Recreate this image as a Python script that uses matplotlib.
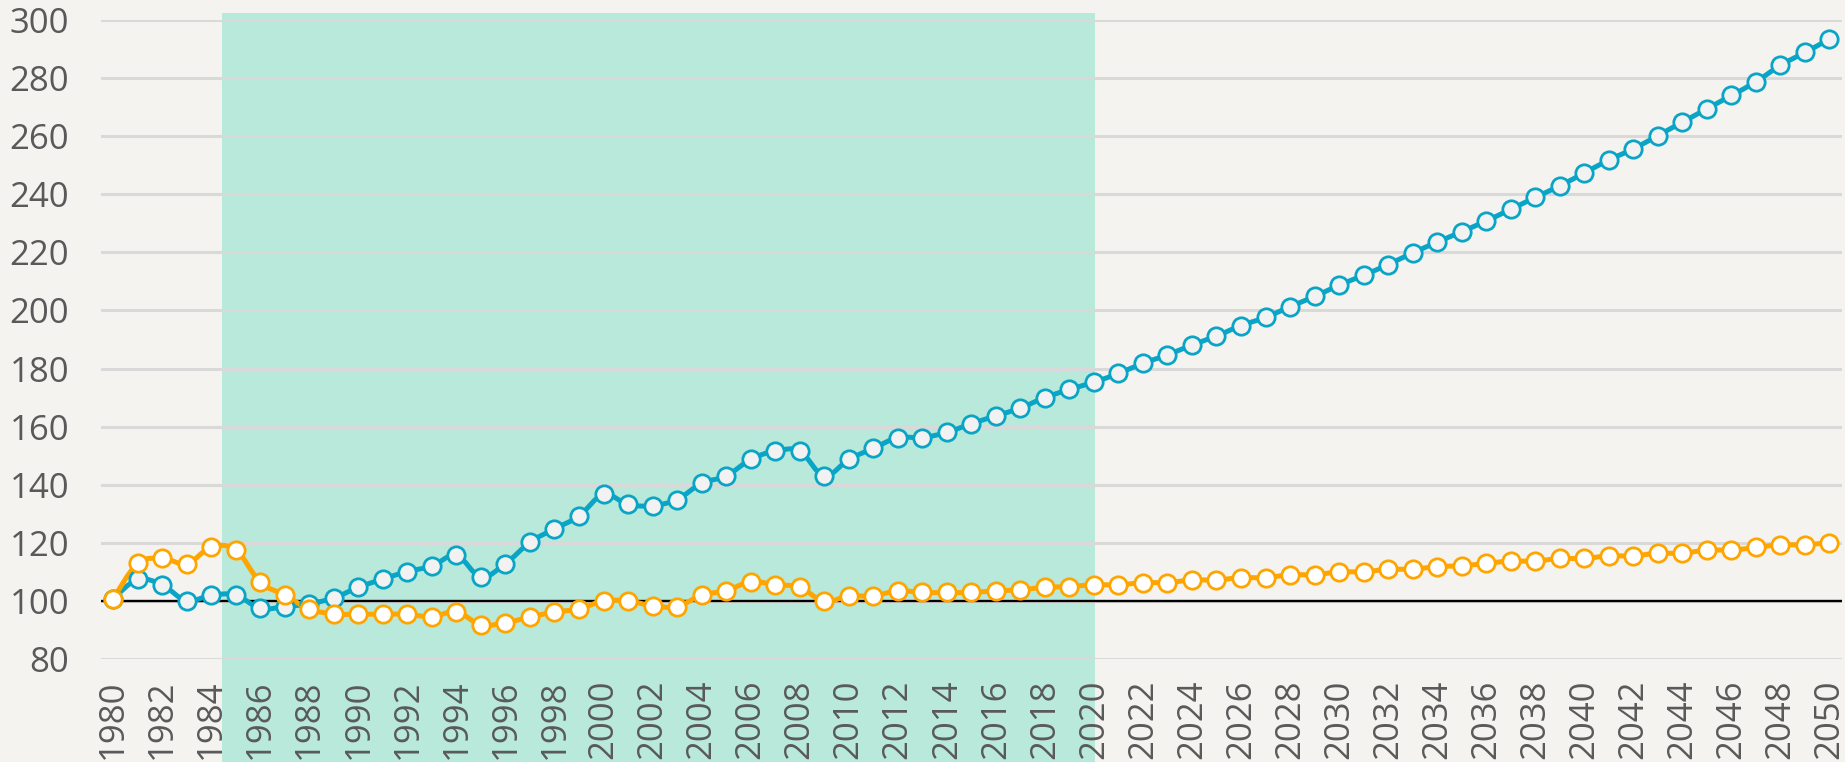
import numpy as np
import matplotlib
matplotlib.use("Agg")
import matplotlib.pyplot as plt
from matplotlib.path import Path
from matplotlib.patches import PathPatch, Rectangle
from matplotlib.transforms import blended_transform_factory

years = list(range(1980, 2051))

series_blue = [
    100.8, 107.4, 105.5, 100.0, 102.0, 102.0, 97.4, 98.0, 99.0, 101.0,
    104.7, 107.5, 110.1, 112.0, 115.7, 108.2, 112.8, 120.2, 124.8, 129.2,
    136.7, 133.2, 132.8, 134.9, 140.5, 143.0, 148.7, 151.6, 151.6, 143.0,
    148.7, 152.5, 156.2, 156.2, 158.0, 161.0, 163.7, 166.4, 170.0, 172.8,
    175.3, 178.3, 181.8, 184.7, 188.1, 191.2, 194.8, 197.6, 201.3, 204.8,
    208.7, 212.1, 215.8, 219.8, 223.5, 227.1, 230.8, 234.8, 238.9, 242.9,
    247.3, 251.8, 255.6, 260.2, 264.8, 269.4, 274.0, 278.7, 284.4, 288.8,
    293.4,
]

series_orange = [
    100.8, 112.9, 114.7, 112.8, 118.5, 117.6, 106.4, 102.0, 97.2, 95.5,
    95.4, 95.4, 95.4, 94.5, 96.3, 91.7, 92.5, 94.4, 96.2, 97.2,
    100.0, 100.0, 98.3, 98.0, 102.0, 103.5, 106.6, 105.6, 104.7, 99.8,
    101.7, 101.7, 103.5, 102.9, 102.9, 102.9, 103.5, 103.8, 104.7, 104.9,
    105.6, 105.5, 106.3, 106.3, 107.2, 107.2, 108.0, 108.0, 109.0, 109.0,
    110.0, 110.0, 110.9, 110.9, 111.8, 112.1, 112.9, 113.7, 113.7, 114.6,
    114.6, 115.5, 115.5, 116.4, 116.4, 117.5, 117.5, 118.4, 119.3, 119.3,
    120.1,
]

shade_span = (1984.45, 2020.05)
baseline = 100
y_ticks = list(range(80, 301, 20))
x_ticks = list(range(1980, 2051, 2))

BG = "#F4F3F0"
BLUE = "#0AA5C6"
ORANGE = "#FFA500"
SHADE = "#B9E9DA"
GRID = "#D9D9D9"
TXT = "#595959"

plt.rcParams["font.family"] = ["Open Sans", "DejaVu Sans"]

fig = plt.figure(figsize=(18.45, 7.62), dpi=100, facecolor=BG)
ax = fig.add_axes([0.0547, 0.1352, 0.9435, 0.8386])
ax.set_facecolor("none")


def smooth_path(xs, ys):
    xs = np.asarray(xs, float)
    ys = np.asarray(ys, float)
    n = len(xs)
    verts = [(xs[0], ys[0])]
    codes = [Path.MOVETO]
    for i in range(n - 1):
        i0 = max(i - 1, 0)
        i3 = min(i + 2, n - 1)
        c1 = (xs[i] + (xs[i + 1] - xs[i0]) / 6.0, ys[i] + (ys[i + 1] - ys[i0]) / 6.0)
        c2 = (xs[i + 1] - (xs[i3] - xs[i]) / 6.0, ys[i + 1] - (ys[i3] - ys[i]) / 6.0)
        verts += [c1, c2, (xs[i + 1], ys[i + 1])]
        codes += [Path.CURVE4] * 3
    return Path(verts, codes)


# shaded period, extends over the whole figure height
trans = blended_transform_factory(ax.transData, fig.transFigure)
rect = Rectangle((shade_span[0], 0), shade_span[1] - shade_span[0], 1 - 13 / 762,
                 transform=trans, facecolor=SHADE, edgecolor="none",
                 clip_on=False, zorder=0.1)
ax.add_artist(rect)

ax.set_xlim(1979.5, 2050.5)
ax.set_ylim(80, 300)
ax.set_yticks(y_ticks)
ax.set_xticks(x_ticks)
ax.set_xticklabels([str(t) for t in x_ticks], rotation=90)
ax.yaxis.grid(True, color=GRID, linewidth=2.2)
ax.xaxis.grid(False)
ax.set_axisbelow(True)
for s in ax.spines.values():
    s.set_visible(False)
ax.tick_params(axis="both", length=0, labelsize=25, labelcolor=TXT)
ax.tick_params(axis="y", pad=23)
ax.tick_params(axis="x", pad=15)

ax.axhline(baseline, color="black", linewidth=1.7, zorder=2)

for ys, col, face in [(series_blue, BLUE, "#F2F2F2"), (series_orange, ORANGE, "white")]:
    p = smooth_path(years, ys)
    ax.add_patch(PathPatch(p, facecolor="none", edgecolor=col, linewidth=3.6,
                           zorder=3, capstyle="round", joinstyle="round"))
    ax.plot(years, ys, linestyle="none", marker="o", markersize=12.5,
            markerfacecolor=face, markeredgecolor=col, markeredgewidth=2.0, zorder=4)

fig.savefig("out.png", dpi=100, facecolor=BG)
